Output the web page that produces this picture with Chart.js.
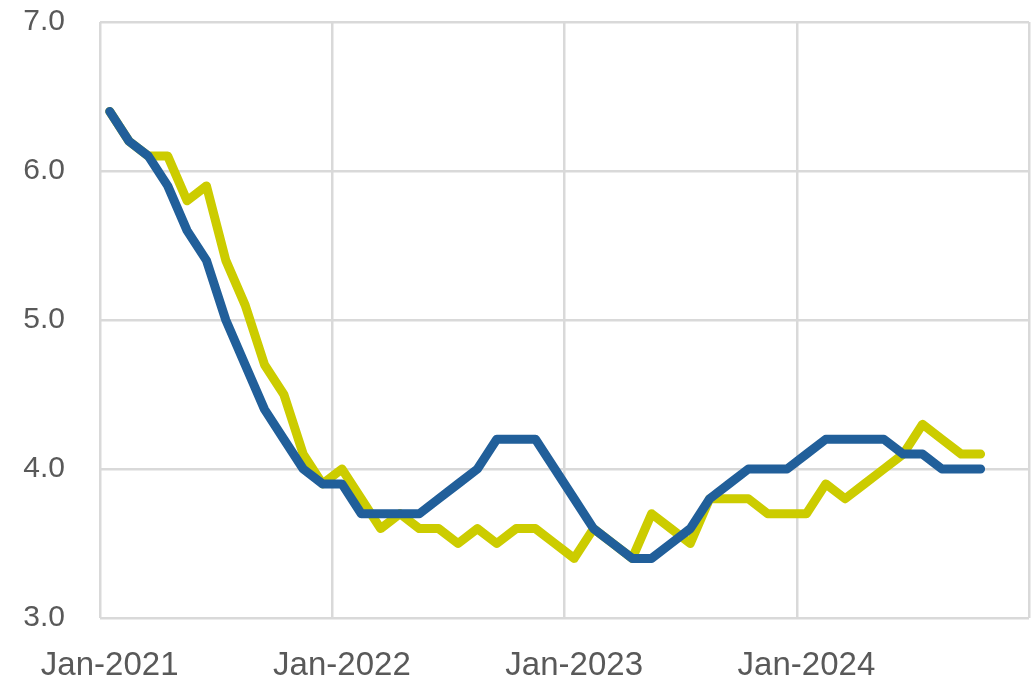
<!DOCTYPE html>
<html>
<head>
<meta charset="utf-8">
<script src="https://cdn.jsdelivr.net/npm/chart.js@4.4.0/dist/chart.umd.min.js"></script>
<style>
  html, body { margin: 0; padding: 0; background: #fff; }
  #wrap { width: 1031px; height: 687px; position: relative; }
</style>
</head>
<body>
<div id="wrap"><canvas id="grafico"></canvas></div>
<script>
// monthly categories Jan-2021 .. Dec-2024
const months = ['Jan', 'Feb', 'Mar', 'Apr', 'May', 'Jun', 'Jul', 'Aug', 'Sep', 'Oct', 'Nov', 'Dec'];
const years = [2021, 2022, 2023, 2024];
const tickLabels = ['Jan-2021', 'Jan-2022', 'Jan-2023', 'Jan-2024'];

const blueValues = [
  6.4, 6.2, 6.1, 5.9, 5.6, 5.4, 5.0, 4.7, 4.4, 4.2, 4.0, 3.9,
  3.9, 3.7, 3.7, 3.7, 3.7, 3.8, 3.9, 4.0, 4.2, 4.2, 4.2, 4.0,
  3.8, 3.6, 3.5, 3.4, 3.4, 3.5, 3.6, 3.8, 3.9, 4.0, 4.0, 4.0,
  4.1, 4.2, 4.2, 4.2, 4.2, 4.1, 4.1, 4.0, 4.0, 4.0
];
const yellowValues = [
  6.4, 6.2, 6.1, 6.1, 5.8, 5.9, 5.4, 5.1, 4.7, 4.5, 4.1, 3.9,
  4.0, 3.8, 3.6, 3.7, 3.6, 3.6, 3.5, 3.6, 3.5, 3.6, 3.6, 3.5,
  3.4, 3.6, 3.5, 3.4, 3.7, 3.6, 3.5, 3.8, 3.8, 3.8, 3.7, 3.7,
  3.7, 3.9, 3.8, 3.9, 4.0, 4.1, 4.3, 4.2, 4.1, 4.1
];

const categorias = [];
years.forEach(y => months.forEach(m => categorias.push(m + '-' + y)));

const gridColor = '#d9d9d9';
const textColor = '#595959';

const ctx = document.getElementById('grafico').getContext('2d');
new Chart(ctx, {
  type: 'line',
  data: {
    labels: categorias,
    datasets: [
      {
        data: blueValues,
        borderColor: '#215f9a',
        borderWidth: 9,
        pointRadius: 0,
        borderJoinStyle: 'round',
        borderCapStyle: 'round',
        fill: false,
        tension: 0
      },
      {
        data: yellowValues,
        borderColor: '#cccc00',
        borderWidth: 9,
        pointRadius: 0,
        borderJoinStyle: 'round',
        borderCapStyle: 'round',
        fill: false,
        tension: 0
      }
    ]
  },
  options: {
    responsive: true,
    maintainAspectRatio: false,
    animation: false,
    layout: { padding: { left: 23, right: 2, top: 22, bottom: 0 } },
    plugins: {
      legend: { display: false },
      tooltip: { enabled: false }
    },
    scales: {
      x: {
        type: 'category',
        offset: true,
        afterFit: s => {
          s.height = 69;
          s.paddingLeft = 0;
          s.paddingRight = 0;
        },
        grid: {
          offset: true,
          drawTicks: false,
          lineWidth: 2.5,
          color: c => (c.index === undefined || c.index % 12 === 0) ? gridColor : 'rgba(0,0,0,0)'
        },
        border: { display: false },
        ticks: {
          autoSkip: false,
          maxRotation: 0,
          minRotation: 0,
          padding: 28,
          color: textColor,
          font: { family: 'Liberation Sans', size: 33 },
          callback: function (value) {
            const lab = this.getLabelForValue(value);
            return tickLabels.includes(lab) ? lab : '';
          }
        }
      },
      y: {
        min: 3,
        max: 7,
        afterFit: s => {
          s.width = 77;
          s.paddingTop = 0;
          s.paddingBottom = 0;
        },
        grid: { drawTicks: false, lineWidth: 2.5, color: gridColor },
        border: { display: false },
        ticks: {
          stepSize: 1,
          padding: 35,
          color: textColor,
          font: { family: 'Liberation Sans', size: 30 },
          callback: v => v.toFixed(1)
        }
      }
    }
  }
});
</script>
</body>
</html>
